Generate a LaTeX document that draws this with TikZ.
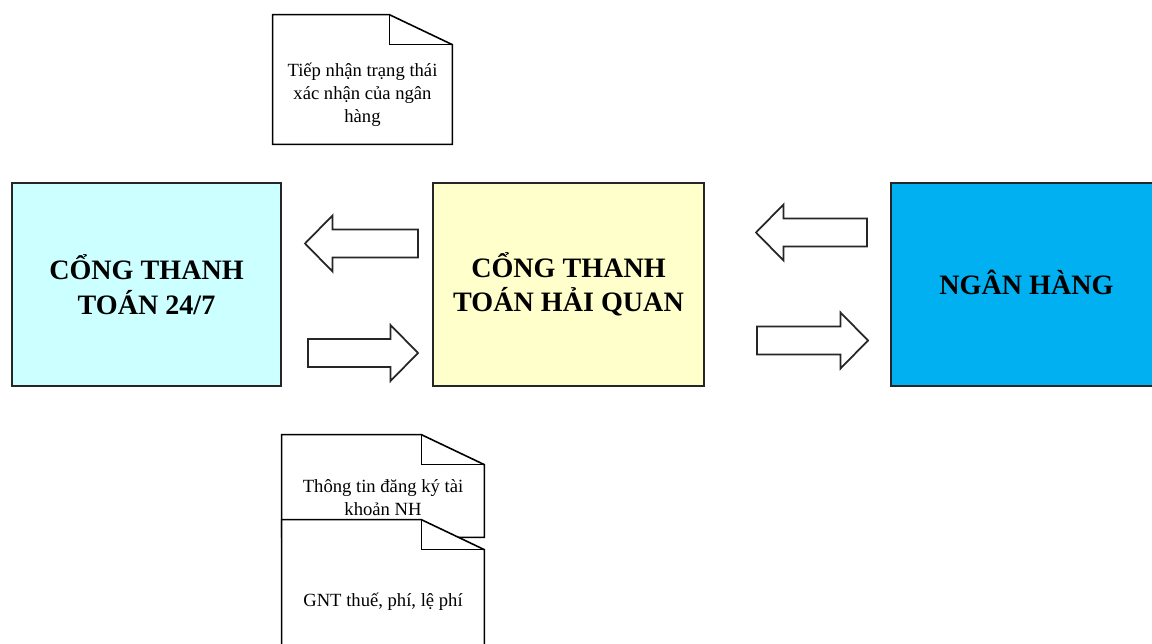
\documentclass[tikz,border=0pt]{standalone}
\usepackage{fontspec}
\setmainfont{Liberation Serif}
\usepackage{xcolor}
\usetikzlibrary{calc}

\definecolor{xanhnhat}{HTML}{CCFFFF}
\definecolor{vangnhat}{HTML}{FFFFCC}
\definecolor{xanhdam}{HTML}{00B0F0}

\tikzset{
  khoi/.style={draw=black!85, line width=0.8pt, minimum width=5.42cm,
    minimum height=4.06cm, align=center, inner sep=0pt,
    font=\fontsize{16}{19.5}\selectfont\bfseries},
  giay/.style={minimum width=#1, inner sep=0pt},
  vien/.style={draw=black, line width=0.9pt, fill=white},
  chu/.style={align=center, inner sep=0pt,
    font=\fontsize{10.6}{13}\selectfont},
  muiten/.style={draw=black!85, line width=1pt, fill=white, line join=miter}
}

% van ban co goc gap
\newcommand{\vanban}[1]{%
  \draw[vien] (#1.north west) -- ($(#1.north east)+(-1.26,0)$)
    -- ($(#1.north east)+(0,-0.6)$) -- (#1.south east)
    -- (#1.south west) -- cycle;
  \draw[vien, fill=none] ($(#1.north east)+(-1.26,0)$) -- ++(0,-0.6)
    -- ($(#1.north east)+(0,-0.6)$);
}

% mui ten khoi tu #1 den #2
\newcommand{\muikhoi}[2]{%
  \draw[muiten] ($(#1)+(0,0.28)$) -- ($(#2)!0.55cm!(#1)+(0,0.28)$)
    -- ($(#2)!0.55cm!(#1)+(0,0.56)$) -- (#2)
    -- ($(#2)!0.55cm!(#1)+(0,-0.56)$) -- ($(#2)!0.55cm!(#1)+(0,-0.28)$)
    -- ($(#1)+(0,-0.28)$) -- cycle;
}

\begin{document}
\begin{tikzpicture}
    \useasboundingbox (0,0) rectangle (23.04,-12.88);

    % ba khoi chinh
    \node (cong247) [khoi, fill=xanhnhat, minimum width=5.38cm] at (2.93,-5.69)
        {CỔNG THANH\\TOÁN 24/7};
    \node (conghq) [khoi, fill=vangnhat] at (11.37,-5.69)
        {CỔNG THANH\\TOÁN HẢI QUAN};
    \node (nganhang) [khoi, fill=xanhdam] at (20.53,-5.69)
        {\raisebox{3pt}{NGÂN HÀNG}};

    % mui ten
    \coordinate (a1) at (8.36,-4.87);
    \coordinate (b1) at (6.10,-4.87);
    \coordinate (a2) at (6.16,-7.06);
    \coordinate (b2) at (8.36,-7.06);
    \coordinate (a3) at (17.34,-4.65);
    \coordinate (b3) at (15.12,-4.65);
    \coordinate (a4) at (15.14,-6.81);
    \coordinate (b4) at (17.36,-6.81);
    \muikhoi{a1}{b1}
    \muikhoi{a2}{b2}
    \muikhoi{a3}{b3}
    \muikhoi{a4}{b4}

    % van ban
    \node (vbtrangthai) [giay=3.58cm, minimum height=2.58cm] at (7.25,-1.59) {};
    \vanban{vbtrangthai}
    \node (ttrangthai) [chu] at ([yshift=-0.3cm]vbtrangthai.center)
        {Tiếp nhận trạng thái\\xác nhận của ngân\\hàng};

    \node (vbtaikhoan) [giay=4.04cm, minimum height=2.04cm] at (7.66,-9.72) {};
    \vanban{vbtaikhoan}
    \node (ttaikhoan) [chu] at ([yshift=-0.24cm]vbtaikhoan.center)
        {Thông tin đăng ký tài\\khoản NH};

    \node (vbgnt) [giay=4.04cm, minimum height=3.2cm] at (7.66,-12.0) {};
    \vanban{vbgnt}
    \node (tgnt) [chu] at ([yshift=-0.04cm]vbgnt.center)
        {GNT thuế, phí, lệ phí};
\end{tikzpicture}
\end{document}
